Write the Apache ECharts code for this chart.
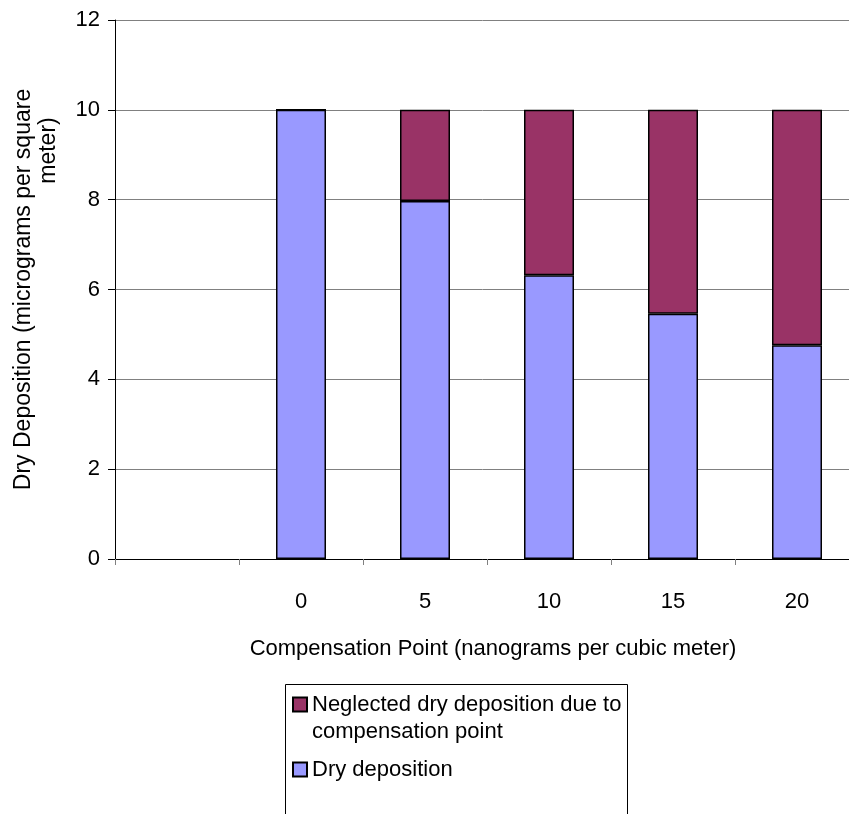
<!DOCTYPE html>
<html>
<head>
<meta charset="utf-8">
<script src="https://cdn.jsdelivr.net/npm/echarts@6/dist/echarts.min.js"></script>
<style>
  html, body { margin: 0; padding: 0; background: #fff; }
  #main { width: 849px; height: 814px; }
</style>
</head>
<body>
<div id="main"></div>
<script>
// categories (first slot is empty in the original chart)
var categories = ['', '0', '5', '10', '15', '20'];
// dry deposition (micrograms per square meter)
var dryDeposition = [null, 10, 7.97, 6.32, 5.46, 4.76];
// part lost because of the compensation point
var neglected = [null, 0, 2.03, 3.68, 4.54, 5.24];

var seriesNames = ['Dry deposition', 'Neglected dry deposition due to\ncompensation point'];
var yTitle = ['Dry Deposition (micrograms per square', 'meter)'];
var xTitle = 'Compensation Point (nanograms per cubic meter)';

var font = "'Liberation Sans', Arial, sans-serif";

var chart = echarts.init(document.getElementById('main'));

// legend text: the icon sits on the first line, like excel does it
function legendText(name) {
	var lines = name.split('\n');
	var out = lines.map(function (l) { return '{t|' + l + '}'; });
	if (lines.length > 1) {
		// empty line on top so the block centre falls on line one
		out.unshift('{t| }');
	}
	return out.join('\n');
}

var option = {
	animation: false,
	backgroundColor: '#fff',
	textStyle: { fontFamily: font, color: '#000' },
	grid: {
		left: 115,
		top: 20,
		right: -10,
		bottom: 255,
		outerBoundsMode: 'none'
	},
	legend: {
		orient: 'vertical',
		left: 292,
		top: 664,
		padding: 0,
		itemGap: 11,
		itemWidth: 14,
		itemHeight: 14,
		selectedMode: false,
		icon: 'rect',
		formatter: legendText,
		textStyle: {
			fontSize: 22,
			lineHeight: 27,
			color: '#000',
			fontFamily: font,
			rich: {
				t: { fontSize: 22, lineHeight: 27, color: '#000', fontFamily: font }
			}
		},
		data: [seriesNames[1], seriesNames[0]]
	},
	xAxis: {
		type: 'category',
		data: categories,
		name: xTitle,
		nameLocation: 'middle',
		nameGap: 79,
		nameTextStyle: { fontSize: 22, color: '#000', padding: [0, 0, 0, 12] },
		axisLine: { lineStyle: { color: '#000', width: 1 } },
		axisTick: { show: true, length: 6, lineStyle: { color: '#808080' } },
		axisLabel: { fontSize: 22, color: '#000', margin: 32 },
		splitLine: { show: false }
	},
	yAxis: {
		type: 'value',
		min: 0,
		max: 12,
		interval: 2,
		name: '{a|' + yTitle[0] + '}\n{b|' + yTitle[1] + '}',
		nameLocation: 'middle',
		nameRotate: 90,
		nameGap: 54,
		nameTextStyle: {
			fontSize: 23,
			lineHeight: 25,
			color: '#000',
			rich: {
				a: { fontSize: 23, lineHeight: 25, fontFamily: font, color: '#000' },
				b: { fontSize: 23, lineHeight: 25, fontFamily: font, color: '#000', padding: [0, 0, 0, 278] }
			}
		},
		axisLine: { show: true, lineStyle: { color: '#000', width: 1 } },
		axisTick: { show: true, length: 7, lineStyle: { color: '#000' } },
		axisLabel: { fontSize: 22, color: '#000', margin: 15 },
		splitLine: { show: true, lineStyle: { color: '#808080', width: 1 } }
	},
	graphic: [{
		type: 'rect',
		shape: { x: 285.5, y: 684.5, width: 342, height: 200 },
		style: { fill: 'none', stroke: '#000', lineWidth: 1 },
		z: -1
	}],
	series: [{
		name: seriesNames[0],
		type: 'bar',
		stack: 'total',
		barWidth: 50,
		data: dryDeposition,
		itemStyle: { color: '#9999FF', borderColor: '#000', borderWidth: 1.5 }
	}, {
		name: seriesNames[1],
		type: 'bar',
		stack: 'total',
		barWidth: 50,
		data: neglected,
		itemStyle: { color: '#993366', borderColor: '#000', borderWidth: 1.5 }
	}]
};

chart.setOption(option);
</script>
</body>
</html>
